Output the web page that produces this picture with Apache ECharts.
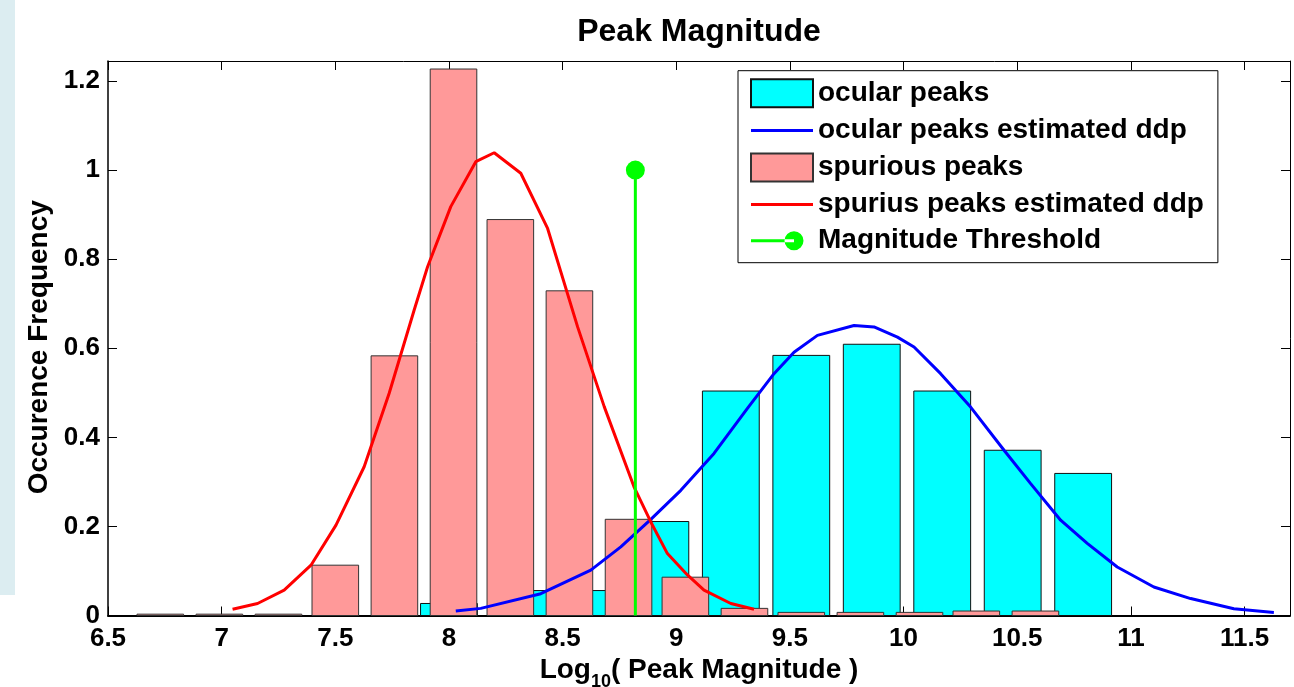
<!DOCTYPE html>
<html>
<head>
<meta charset="utf-8">
<title>Peak Magnitude</title>
<script src="https://cdn.jsdelivr.net/npm/echarts@6/dist/echarts.min.js"></script>
<style>
    html,body{margin:0;padding:0;background:#fff;}
    #main{width:1294px;height:687px;}
</style>
</head>
<body>
<div id="main"></div>
<script>
//柱状图 spurious peaks
var spuriousX=[6.73,6.99,7.25,7.50,7.76,8.02,8.27,8.53,8.79,9.04,9.30,9.55,9.81,10.07,10.32,10.58];
var spuriousY=[0.003,0.003,0.003,0.113,0.583,1.227,0.889,0.729,0.216,0.086,0.016,0.007,0.007,0.007,0.010,0.010];
var spuriousWidth=0.205;
//柱状图 ocular peaks
var ocularX=[8.00,8.31,8.62,8.93,9.24,9.55,9.86,10.17,10.48,10.79];
var ocularY=[0.027,0.056,0.056,0.211,0.504,0.584,0.609,0.504,0.371,0.319];
var ocularWidth=0.25;
//估计曲线 spurius peaks estimated ddp
var redX=[7.048,7.158,7.275,7.393,7.503,7.627,7.737,7.847,7.906,8.008,8.118,8.199,8.316,8.434,8.566,8.683,8.814,8.888,8.961,9.049,9.122,9.240,9.342];
var redY=[0.014,0.027,0.057,0.113,0.203,0.334,0.499,0.686,0.783,0.918,1.019,1.039,0.993,0.869,0.648,0.469,0.289,0.210,0.139,0.091,0.057,0.027,0.014];
//估计曲线 ocular peaks estimated ddp
var blueX=[8.030,8.140,8.404,8.624,8.756,8.888,9.020,9.166,9.313,9.430,9.518,9.621,9.782,9.870,9.973,10.046,10.163,10.295,10.442,10.559,10.691,10.808,10.940,11.101,11.263,11.453,11.629];
var blueY=[0.010,0.016,0.049,0.102,0.154,0.216,0.281,0.364,0.465,0.543,0.591,0.629,0.651,0.648,0.625,0.603,0.543,0.468,0.371,0.296,0.214,0.162,0.109,0.064,0.038,0.015,0.007];
//阈值
var thresholdX=8.82;
var thresholdY=1;
//坐标轴
var xMin=6.5,xMax=11.7,xStep=0.5;
var yMin=0,yMax=1.245,yStep=0.2;

var FONT='"Liberation Sans", Arial, sans-serif';
// 图例图标
var lineIcon='path://M0,0M62,28M0,12.5h62v3h-62z';
var stemIcon='path://M0,0M62,28M0,12.5h43v3h-43zM33.5,14a9.5,9.5 0 1,0 19,0a9.5,9.5 0 1,0 -19,0z';

function pairs(xs,ys){
    var out=[];
    for(var i=0;i<xs.length;i++){
        out.push([xs[i],ys[i]]);
    }
    return out;
}
// 柱子按数据宽度画
function barItem(w){
    return function(params,api){
        var x=api.value(0),y=api.value(1);
        var p0=api.coord([x-w/2,y]);
        var p1=api.coord([x+w/2,0]);
        return {
            type:'rect',
            shape:{x:p0[0],y:p0[1],width:p1[0]-p0[0],height:p1[1]-p0[1]},
            style:api.style()
        };
    };
}
// 只显示整刻度
function tickFmt(step){
    return function(v){
        var k=v/step;
        if(Math.abs(k-Math.round(k))>1e-6) return '';
        return String(+v.toFixed(2));
    };
}

var labelStyle={color:'#000',fontSize:26,fontWeight:'bold',fontFamily:FONT};

var myChart=echarts.init(document.getElementById('main'));
var option={
    backgroundColor:'#fff',
    animation:false,
    graphic:[{
        type:'rect',left:0,top:0,z:-10,
        shape:{width:15,height:595},
        style:{fill:'#dcedf1'}
    }],
    title:{
        text:'Peak Magnitude',
        left:694,
        top:11,
        textAlign:'center',
        textStyle:{color:'#000',fontSize:32,fontWeight:'bold',fontFamily:FONT}
    },
    grid:{left:108,right:4,top:61,bottom:71.5,show:false,outerBoundsMode:'none'},
    legend:{
        orient:'vertical',
        left:738,
        top:70.7,
        padding:[7.6,14,8,12],
        itemGap:8.1,
        itemWidth:62,
        itemHeight:28,
        backgroundColor:'#fff',
        borderColor:'#000',
        borderWidth:1,
        textStyle:{color:'#000',fontSize:28,fontWeight:'bold',fontFamily:FONT,lineHeight:28},
        data:[
            {name:'ocular peaks',icon:'rect'},
            {name:'ocular peaks estimated ddp',icon:lineIcon},
            {name:'spurious peaks',icon:'rect'},
            {name:'spurius peaks estimated ddp',icon:lineIcon},
            {name:'Magnitude Threshold',icon:stemIcon}
        ]
    },
    xAxis:[{
        type:'value',min:xMin,max:xMax,interval:xStep,
        name:'{a|Log}{s|10}{a|( Peak Magnitude )}',
        nameLocation:'middle',
        nameGap:32,
        nameTextStyle:{
            rich:{
                a:{color:'#000',fontSize:28,fontWeight:'bold',fontFamily:FONT},
                s:{color:'#000',fontSize:18,fontWeight:'bold',fontFamily:FONT,padding:[24,0,0,0]}
            }
        },
        axisLine:{onZero:false,lineStyle:{color:'#000',width:2}},
        axisTick:{inside:true,length:9,lineStyle:{color:'#000',width:1}},
        axisLabel:Object.assign({margin:10,formatter:tickFmt(xStep)},labelStyle),
        splitLine:{show:false}
    },{
        type:'value',position:'top',min:xMin,max:xMax,interval:xStep,
        axisLine:{onZero:false,lineStyle:{color:'#000',width:1}},
        axisTick:{inside:true,length:9,lineStyle:{color:'#000'}},
        axisLabel:{show:false},
        splitLine:{show:false}
    }],
    yAxis:[{
        type:'value',min:yMin,max:yMax,interval:yStep,
        name:'Occurence Frequency',
        nameLocation:'middle',
        nameGap:54,
        nameTextStyle:{color:'#000',fontSize:28,fontWeight:'bold',fontFamily:FONT,padding:[0,18,0,0]},
        axisLine:{show:true,onZero:false,lineStyle:{color:'#000',width:1.5}},
        axisTick:{show:true,inside:true,length:9,lineStyle:{color:'#000'}},
        axisLabel:Object.assign({margin:8,formatter:tickFmt(yStep)},labelStyle),
        splitLine:{show:false}
    },{
        type:'value',position:'right',min:yMin,max:yMax,interval:yStep,
        axisLine:{show:true,onZero:false,lineStyle:{color:'#000',width:1}},
        axisTick:{show:true,inside:true,length:9,lineStyle:{color:'#000'}},
        axisLabel:{show:false},
        splitLine:{show:false}
    }],
    series:[{
        name:'ocular peaks',
        type:'custom',
        renderItem:barItem(ocularWidth),
        itemStyle:{color:'#00ffff',borderColor:'#111',borderWidth:1},
        encode:{x:0,y:1},
        data:pairs(ocularX,ocularY)
    },{
        name:'ocular peaks estimated ddp',
        type:'line',
        symbol:'none',
        lineStyle:{color:'#0000ff',width:3},
        itemStyle:{color:'#0000ff'},
        data:pairs(blueX,blueY)
    },{
        name:'spurious peaks',
        type:'custom',
        renderItem:barItem(spuriousWidth),
        itemStyle:{color:'#ff9999',borderColor:'#333',borderWidth:1},
        encode:{x:0,y:1},
        data:pairs(spuriousX,spuriousY)
    },{
        name:'spurius peaks estimated ddp',
        type:'line',
        symbol:'none',
        lineStyle:{color:'#ff0000',width:3},
        itemStyle:{color:'#ff0000'},
        data:pairs(redX,redY)
    },{
        name:'Magnitude Threshold',
        type:'line',
        symbol:'circle',
        symbolSize:19,
        lineStyle:{color:'#00ff00',width:3},
        itemStyle:{color:'#00ff00'},
        data:[{value:[thresholdX,0],symbol:'none'},[thresholdX,thresholdY]]
    }]
};
myChart.setOption(option);
</script>
</body>
</html>
